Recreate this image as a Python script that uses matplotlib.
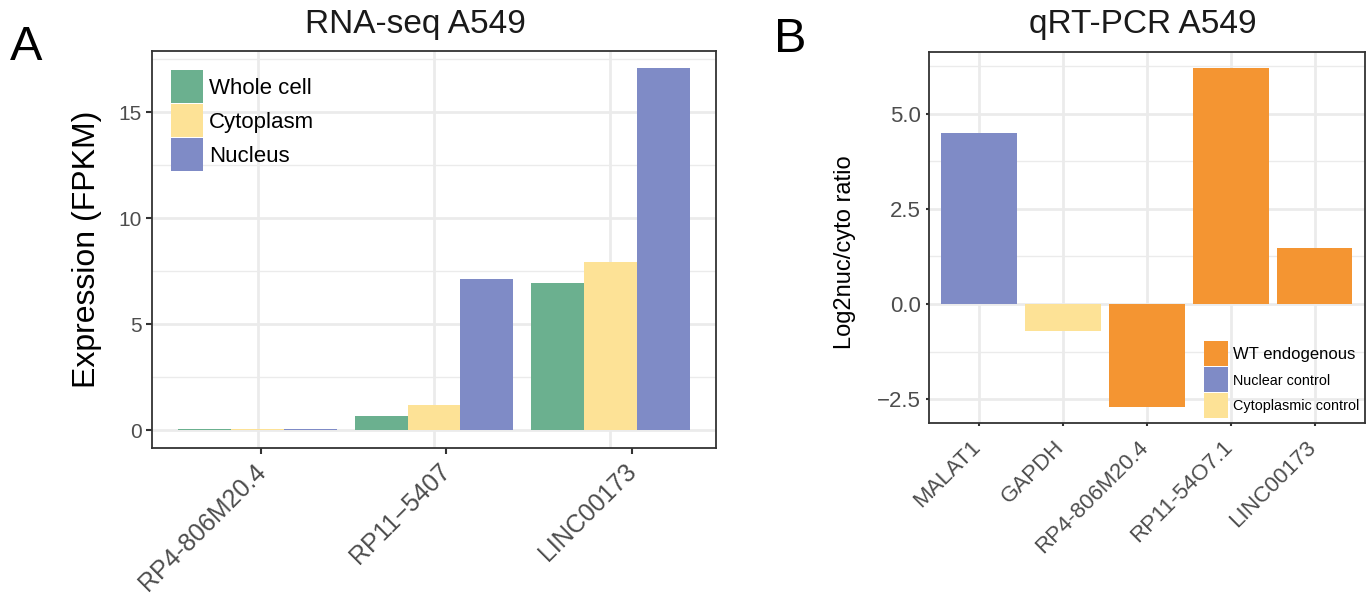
import matplotlib
matplotlib.use('Agg')
import matplotlib.pyplot as plt
from matplotlib.patches import Patch
from matplotlib.ticker import MultipleLocator
from matplotlib.transforms import ScaledTranslation
import numpy as np

plt.rcParams['font.family'] = ['Liberation Sans', 'DejaVu Sans']

# RNA-seq expression by fraction
genes_a = ['RP4-806M20.4', 'RP11\u22125407', 'LINC00173']
whole_cell = [0.03, 0.65, 6.95]
cytoplasm = [0.03, 1.2, 7.95]
nucleus = [0.03, 7.15, 17.1]
fractions = ['Whole cell', 'Cytoplasm', 'Nucleus']

# qRT-PCR nuclear/cytoplasmic log2 ratios
genes_b = ['MALAT1', 'GAPDH', 'RP4-806M20.4', 'RP11-54O7.1', 'LINC00173']
ratio_b = [4.5, -0.72, -2.7, 6.2, 1.47]
group_b = ['Nuclear control', 'Cytoplasmic control', 'WT endogenous',
           'WT endogenous', 'WT endogenous']
groups_b = ['WT endogenous', 'Nuclear control', 'Cytoplasmic control']

col_green = '#6bb08f'
col_yellow = '#fde296'
col_blue = '#7f8bc6'
col_orange = '#f49532'
frac_colors = [col_green, col_yellow, col_blue]
group_colors = {'WT endogenous': col_orange, 'Nuclear control': col_blue,
                'Cytoplasmic control': col_yellow}

GRID = '#ebebeb'
BORDER = '#333333'
TICKTXT = '#4d4d4d'


def style_axes(ax):
    ax.set_axisbelow(True)
    for s in ax.spines.values():
        s.set_color(BORDER)
        s.set_linewidth(1.3)
    ax.grid(which='major', color=GRID, linewidth=2.0)
    ax.grid(which='minor', axis='y', color=GRID, linewidth=1.0)
    ax.tick_params(which='minor', length=0)
    ax.tick_params(which='major', color=BORDER, width=1.5, length=4)


def nudge_labels(ax, dx_px):
    # slide rotated tick labels sideways so their ends sit on the ticks
    off = ScaledTranslation(dx_px / 100, 0, ax.figure.dpi_scale_trans)
    for lab in ax.get_xticklabels():
        lab.set_transform(lab.get_transform() + off)


fig = plt.figure(figsize=(13.72, 5.96), dpi=100)

# panel A
ax1 = fig.add_axes([0.1108, 0.2483, 0.5219 - 0.1108, 0.9144 - 0.2483])
x = np.arange(len(genes_a))
w = 0.3
for i, (vals, lab) in enumerate(zip([whole_cell, cytoplasm, nucleus], fractions)):
    ax1.bar(x + (i - 1) * w, vals, width=w, color=frac_colors[i], label=lab)
ax1.set_xlim(-0.6, 2.6)
ax1.set_ylim(-0.85, 17.9)
ax1.yaxis.set_major_locator(MultipleLocator(5))
ax1.yaxis.set_minor_locator(MultipleLocator(2.5))
style_axes(ax1)
# vertical grid sits on the groups, tick marks a little to the right
ax1.grid(False, axis='x')
for xi in x:
    ax1.axvline(xi, color=GRID, linewidth=2.0, zorder=0.5)
ax1.set_xticks(x + np.array([0.02, 0.07, 0.125]))
ax1.set_xticklabels(genes_a, rotation=45, ha='right', va='top',
                    rotation_mode='anchor', fontsize=18, color=TICKTXT)
ax1.tick_params(axis='x', pad=4)
nudge_labels(ax1, -8)
ax1.tick_params(axis='y', labelsize=15, labelcolor=TICKTXT)
ax1.set_ylabel('Expression (FPKM)', fontsize=23, labelpad=12)
leg1 = ax1.legend(handles=[Patch(facecolor=c, label=l) for c, l in zip(frac_colors, fractions)],
                  loc='upper left', bbox_to_anchor=(0.034, 0.952), borderaxespad=0,
                  borderpad=0, frameon=False, fontsize=16, handlelength=1.45,
                  handleheight=1.91, labelspacing=0.05, handletextpad=0.25)

# panel B
ax2 = fig.add_axes([0.677, 0.2903, 0.9949 - 0.677, 0.9128 - 0.2903])
xb = np.arange(len(genes_b))
ax2.bar(xb, ratio_b, width=0.9, color=[group_colors[g] for g in group_b])
ax2.set_xlim(-0.6, 4.6)
ax2.set_ylim(-3.13, 6.63)
ax2.yaxis.set_major_locator(MultipleLocator(2.5))
ax2.yaxis.set_minor_locator(MultipleLocator(1.25))
style_axes(ax2)
ax2.tick_params(which='major', length=2)
ax2.set_xticks(xb)
ax2.set_xticklabels(genes_b, rotation=45, ha='right', va='top',
                    rotation_mode='anchor', fontsize=16, color=TICKTXT)
ax2.tick_params(axis='x', pad=8)
nudge_labels(ax2, -9)
ax2.tick_params(axis='y', labelsize=16, labelcolor=TICKTXT)
ax2.set_ylabel('Log2nuc/cyto ratio', fontsize=17)
ax2.yaxis.set_label_coords(-0.167, 0.461)
leg2 = ax2.legend(handles=[Patch(facecolor=group_colors[g], label=g) for g in groups_b],
                  loc='upper left', bbox_to_anchor=(0.631, 0.221), borderaxespad=0,
                  borderpad=0, frameon=False, fontsize=12, handlelength=1.44,
                  handleheight=1.93, labelspacing=0.05, handletextpad=0.3)
for t in leg2.get_texts()[1:]:
    t.set_fontsize(10.4)

# titles and panel letters
fig.text(415 / 1372, 1 - 25 / 596, 'RNA-seq A549', ha='center', va='center',
         fontsize=24, color='#1a1a1a')
fig.text(1143 / 1372, 1 - 25 / 596, 'qRT-PCR A549', ha='center', va='center',
         fontsize=24, color='#1a1a1a')
fig.text(10 / 1372, 1 - 47 / 596, 'A', ha='left', va='center', fontsize=35)
fig.text(774 / 1372, 1 - 40 / 596, 'B', ha='left', va='center', fontsize=35)

fig.savefig('out.png', dpi=100)
